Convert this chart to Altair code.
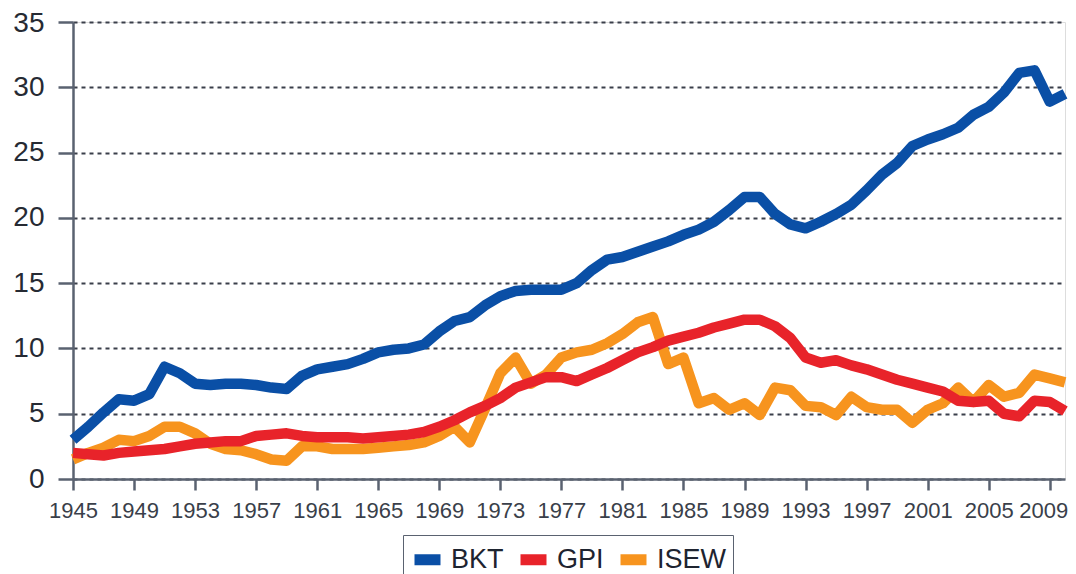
import altair as alt
import pandas as pd

years = list(range(1945, 2011))

bkt = [3.0, 4.0, 5.1, 6.1, 6.0, 6.5, 8.6, 8.1, 7.3, 7.2,
       7.3, 7.3, 7.2, 7.0, 6.9, 7.9, 8.4, 8.6, 8.8, 9.2,
       9.7, 9.9, 10.0, 10.3, 11.3, 12.1, 12.4, 13.3, 14.0, 14.4,
       14.5, 14.5, 14.5, 15.0, 16.0, 16.8, 17.0, 17.4, 17.8, 18.2,
       18.7, 19.1, 19.7, 20.6, 21.6, 21.6, 20.3, 19.5, 19.2, 19.7,
       20.3, 21.0, 22.1, 23.3, 24.2, 25.5, 26.0, 26.4, 26.9, 27.9,
       28.5, 29.6, 31.1, 31.3, 28.9, 29.5]

gpi = [2.0, 1.9, 1.8, 2.0, 2.1, 2.2, 2.3, 2.5, 2.7, 2.8,
       2.9, 2.9, 3.3, 3.4, 3.5, 3.3, 3.2, 3.2, 3.2, 3.1,
       3.2, 3.3, 3.4, 3.6, 4.0, 4.5, 5.1, 5.6, 6.2, 7.0,
       7.4, 7.8, 7.8, 7.5, 8.0, 8.5, 9.1, 9.7, 10.1, 10.6,
       10.9, 11.2, 11.6, 11.9, 12.2, 12.2, 11.7, 10.8, 9.3, 8.9,
       9.1, 8.7, 8.4, 8.0, 7.6, 7.3, 7.0, 6.7, 6.0, 5.9,
       6.0, 5.0, 4.8, 6.0, 5.9, 5.2]

isew = [1.5, 2.0, 2.4, 3.0, 2.9, 3.3, 4.0, 4.0, 3.5, 2.7,
        2.3, 2.2, 1.9, 1.5, 1.4, 2.5, 2.5, 2.3, 2.3, 2.3,
        2.4, 2.5, 2.6, 2.8, 3.3, 4.0, 2.8, 5.4, 8.1, 9.3,
        7.3, 8.0, 9.3, 9.7, 9.9, 10.4, 11.1, 12.0, 12.4, 8.8,
        9.3, 5.8, 6.2, 5.3, 5.8, 4.9, 7.0, 6.8, 5.6, 5.5,
        4.9, 6.3, 5.5, 5.3, 5.3, 4.3, 5.3, 5.8, 7.0, 5.9,
        7.2, 6.3, 6.6, 8.0, 7.7, 7.4]

series_names = ["BKT", "GPI", "ISEW"]
series_colors = ["#0a4fa6", "#e8232a", "#f7941e"]
x_ticks = list(range(1945, 2010, 4))
y_ticks = [0, 5, 10, 15, 20, 25, 30, 35]

rows = []
for name, vals, order in [("ISEW", isew, 0), ("GPI", gpi, 1), ("BKT", bkt, 2)]:
    for yr, v in zip(years, vals):
        rows.append({"year": yr, "value": v, "series": name, "order": order})
df = pd.DataFrame(rows)

axis_color = "#5a6270"
last_tick = x_ticks[-1]
top_tick = y_ticks[-1]

chart = alt.Chart(df).mark_line(strokeWidth=10.5, strokeJoin="round", strokeCap="butt").encode(
    x=alt.X("year:Q",
            scale=alt.Scale(domain=[1945, 2010], nice=False, zero=False),
            axis=alt.Axis(values=x_ticks, format="d", title=None, grid=False,
                          tickSize=11, tickWidth=2.5, tickColor=axis_color,
                          domainColor=axis_color, domainWidth=2.5,
                          labelFontSize=22, labelColor="#3a3f4a",
                          labelPadding=10, labelFont="Liberation Sans",
                          labelAlign=alt.condition(f"datum.value == {last_tick}",
                                                   alt.value("right"), alt.value("center")),
                          labelOffset=alt.condition(f"datum.value == {last_tick}",
                                                    alt.value(18), alt.value(0)),
                          labelOverlap=False, labelFlush=False)),
    y=alt.Y("value:Q",
            scale=alt.Scale(domain=[0, 35], nice=False),
            axis=alt.Axis(values=y_ticks, title=None, grid=True,
                          gridDash=[4, 4], gridColor="#3a3f4a", gridWidth=2,
                          tickSize=15, tickWidth=2.5, tickColor=axis_color,
                          domainColor=axis_color, domainWidth=2.5,
                          labelFontSize=28, labelColor="#262a33",
                          labelPadding=14, labelFont="Liberation Sans",
                          labelOffset=alt.condition(f"datum.value == {top_tick}",
                                                    alt.value(1.5), alt.value(0)))),
    color=alt.Color("series:N",
                    scale=alt.Scale(domain=series_names, range=series_colors),
                    legend=alt.Legend(orient="none", legendX=330, legendY=513,
                                      direction="horizontal", title=None,
                                      gridAlign="each",
                                      symbolType="stroke", symbolStrokeWidth=11,
                                      symbolSize=676, labelFontSize=27,
                                      labelFont="Liberation Sans",
                                      labelColor="#1e2430", labelOffset=5,
                                      columnPadding=-6, padding=6,
                                      strokeColor=axis_color)),
    order=alt.Order("order:Q"),
    detail="series:N",
).properties(
    width=992, height=457,
    autosize=alt.AutoSizeParams(type="none"),
    padding={"left": 65, "top": 14, "right": 3, "bottom": 95},
).configure_view(
    stroke=axis_color, strokeWidth=2.5
).configure(background="white")

chart.save("out.html", embed_options={"renderer": "svg", "actions": False})
